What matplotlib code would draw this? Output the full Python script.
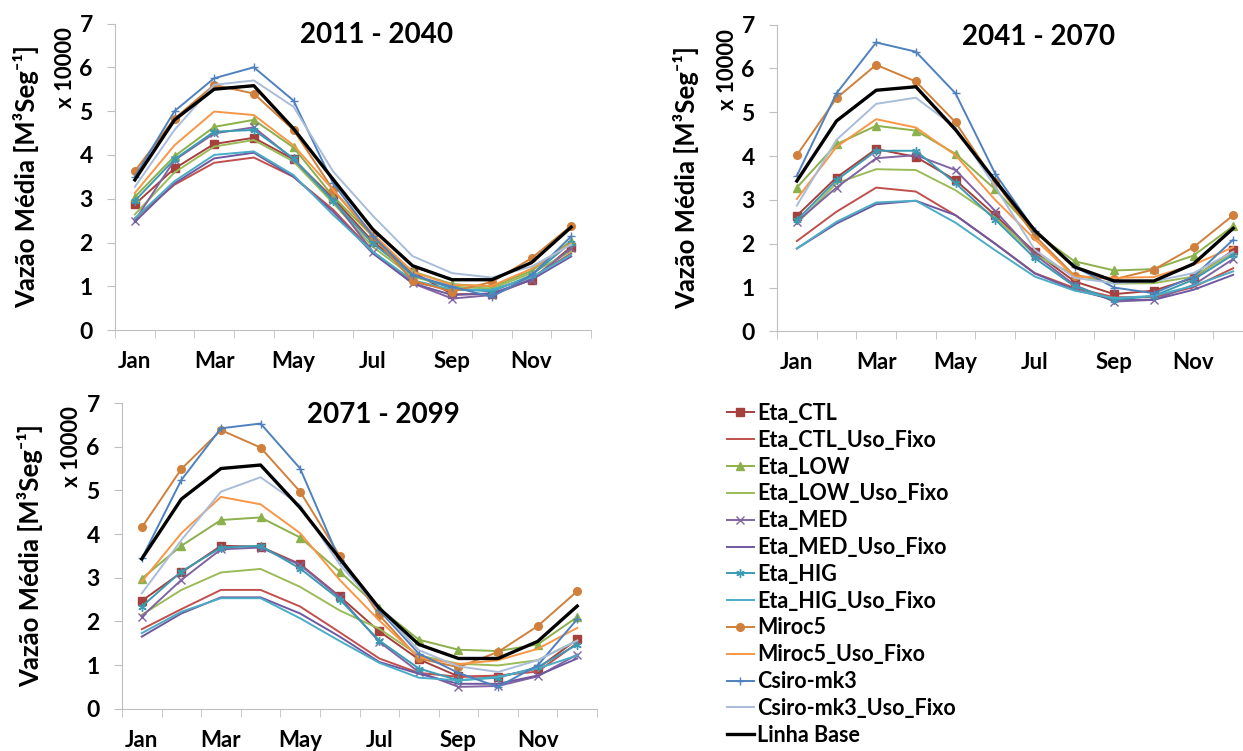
import matplotlib
matplotlib.use('Agg')
import matplotlib.pyplot as plt
import numpy as np

plt.rcParams['font.family'] = ['Lato', 'DejaVu Sans']
plt.rcParams['font.weight'] = 'bold'

meses = ['Jan', 'Feb', 'Mar', 'Apr', 'May', 'Jun', 'Jul', 'Aug', 'Sep', 'Oct', 'Nov', 'Dec']
periodos = ['2011 - 2040', '2041 - 2070', '2071 - 2099']
nomes = ['Eta_CTL', 'Eta_CTL_Uso_Fixo', 'Eta_LOW', 'Eta_LOW_Uso_Fixo', 'Eta_MED',
         'Eta_MED_Uso_Fixo', 'Eta_HIG', 'Eta_HIG_Uso_Fixo', 'Miroc5', 'Miroc5_Uso_Fixo',
         'Csiro-mk3', 'Csiro-mk3_Uso_Fixo', 'Linha Base']

# vazao media (x 10000 m3/s)
linha_base = [3.43, 4.80, 5.50, 5.58, 4.60, 3.44, 2.30, 1.47, 1.15, 1.15, 1.54, 2.35]

# 2011 - 2040
eta_ctl_1 = [2.87, 3.69, 4.25, 4.39, 3.90, 3.01, 2.02, 1.33, 0.82, 0.82, 1.15, 1.90]
eta_ctl_uso_1 = [2.55, 3.32, 3.82, 3.94, 3.50, 2.75, 1.79, 1.10, 0.92, 0.92, 1.20, 1.75]
eta_low_1 = [3.04, 3.97, 4.64, 4.80, 4.17, 3.05, 2.14, 1.34, 1.05, 0.99, 1.35, 2.04]
eta_low_uso_1 = [2.64, 3.60, 4.19, 4.34, 3.85, 2.90, 1.90, 1.22, 0.99, 0.95, 1.30, 1.80]
eta_med_1 = [2.50, 3.88, 4.49, 4.63, 3.90, 2.97, 1.79, 1.07, 0.72, 0.80, 1.15, 1.87]
eta_med_uso_1 = [2.47, 3.35, 3.92, 4.05, 3.50, 2.70, 1.75, 1.07, 0.80, 0.84, 1.15, 1.68]
eta_hig_1 = [2.95, 3.90, 4.53, 4.57, 3.92, 2.94, 1.98, 1.26, 0.95, 0.88, 1.25, 2.00]
eta_hig_uso_1 = [2.55, 3.40, 4.00, 4.08, 3.54, 2.63, 1.79, 1.14, 0.92, 0.92, 1.20, 1.72]
miroc5_1 = [3.63, 4.83, 5.60, 5.40, 4.57, 3.20, 2.14, 1.13, 0.88, 1.10, 1.64, 2.38]
miroc5_uso_1 = [3.13, 4.22, 4.99, 4.91, 4.22, 3.20, 2.20, 1.33, 1.03, 1.01, 1.40, 1.98]
csiro_1 = [3.50, 5.00, 5.75, 6.00, 5.24, 3.35, 2.15, 1.26, 0.99, 0.76, 1.25, 2.14]
csiro_uso_1 = [3.27, 4.57, 5.60, 5.70, 5.10, 3.62, 2.61, 1.69, 1.30, 1.20, 1.45, 1.95]

# 2041 - 2070
eta_ctl_2 = [2.64, 3.51, 4.16, 3.98, 3.45, 2.65, 1.81, 1.14, 0.85, 0.93, 1.22, 1.85]
eta_ctl_uso_2 = [2.06, 2.73, 3.28, 3.19, 2.65, 2.00, 1.33, 0.99, 0.78, 0.78, 1.01, 1.44]
eta_low_2 = [3.28, 4.27, 4.69, 4.58, 4.05, 3.24, 2.25, 1.60, 1.39, 1.42, 1.73, 2.40]
eta_low_uso_2 = [2.46, 3.38, 3.70, 3.68, 3.22, 2.60, 1.75, 1.29, 1.09, 1.10, 1.25, 1.79]
eta_med_2 = [2.50, 3.28, 3.95, 4.02, 3.68, 2.75, 1.75, 1.06, 0.68, 0.72, 1.06, 1.65]
eta_med_uso_2 = [1.89, 2.46, 2.90, 2.98, 2.65, 2.00, 1.32, 0.95, 0.72, 0.72, 0.95, 1.29]
eta_hig_2 = [2.54, 3.45, 4.12, 4.12, 3.38, 2.55, 1.67, 1.03, 0.72, 0.81, 1.18, 1.75]
eta_hig_uso_2 = [1.89, 2.50, 2.94, 2.98, 2.48, 1.85, 1.25, 0.93, 0.76, 0.81, 1.04, 1.37]
miroc5_2 = [4.02, 5.32, 6.08, 5.70, 4.77, 3.41, 2.18, 1.27, 1.19, 1.41, 1.92, 2.65]
miroc5_uso_2 = [3.02, 4.21, 4.84, 4.65, 4.02, 3.00, 2.10, 1.25, 1.22, 1.24, 1.52, 1.92]
csiro_2 = [3.55, 5.43, 6.59, 6.38, 5.43, 3.60, 2.30, 1.48, 1.00, 0.87, 1.25, 2.09]
csiro_uso_2 = [2.87, 4.37, 5.19, 5.33, 4.65, 3.30, 1.86, 1.22, 1.10, 1.14, 1.33, 1.82]

# 2071 - 2099
eta_ctl_3 = [2.47, 3.12, 3.73, 3.71, 3.31, 2.57, 1.77, 1.13, 0.74, 0.73, 0.92, 1.59]
eta_ctl_uso_3 = [1.82, 2.28, 2.72, 2.72, 2.34, 1.75, 1.15, 0.82, 0.73, 0.76, 0.85, 1.50]
eta_low_3 = [2.98, 3.73, 4.32, 4.38, 3.92, 3.14, 2.30, 1.58, 1.35, 1.32, 1.47, 2.10]
eta_low_uso_3 = [2.15, 2.72, 3.12, 3.20, 2.79, 2.25, 1.83, 1.22, 1.03, 0.99, 1.11, 1.56]
eta_med_3 = [2.11, 2.95, 3.65, 3.69, 3.29, 2.55, 1.53, 0.84, 0.50, 0.52, 0.74, 1.24]
eta_med_uso_3 = [1.65, 2.18, 2.55, 2.55, 2.18, 1.65, 1.07, 0.80, 0.57, 0.57, 0.76, 1.15]
eta_hig_3 = [2.34, 3.14, 3.69, 3.73, 3.21, 2.50, 1.56, 0.92, 0.65, 0.71, 0.95, 1.47]
eta_hig_uso_3 = [1.73, 2.22, 2.53, 2.53, 2.07, 1.55, 1.05, 0.71, 0.65, 0.73, 0.92, 1.22]
miroc5_3 = [4.15, 5.49, 6.38, 5.98, 4.97, 3.50, 2.14, 1.15, 0.95, 1.30, 1.89, 2.69]
miroc5_uso_3 = [2.91, 4.02, 4.85, 4.68, 4.02, 2.95, 2.02, 1.18, 1.02, 1.11, 1.37, 1.85]
csiro_3 = [3.44, 5.24, 6.42, 6.53, 5.50, 3.40, 2.25, 1.26, 0.82, 0.50, 0.99, 2.05]
csiro_uso_3 = [2.64, 3.86, 4.97, 5.30, 4.66, 3.30, 2.29, 1.34, 0.97, 0.84, 1.11, 1.56]

series = [
    [eta_ctl_1, eta_ctl_uso_1, eta_low_1, eta_low_uso_1, eta_med_1, eta_med_uso_1,
     eta_hig_1, eta_hig_uso_1, miroc5_1, miroc5_uso_1, csiro_1, csiro_uso_1, linha_base],
    [eta_ctl_2, eta_ctl_uso_2, eta_low_2, eta_low_uso_2, eta_med_2, eta_med_uso_2,
     eta_hig_2, eta_hig_uso_2, miroc5_2, miroc5_uso_2, csiro_2, csiro_uso_2, linha_base],
    [eta_ctl_3, eta_ctl_uso_3, eta_low_3, eta_low_uso_3, eta_med_3, eta_med_uso_3,
     eta_hig_3, eta_hig_uso_3, miroc5_3, miroc5_uso_3, csiro_3, csiro_uso_3, linha_base],
]

cores = ['#A5403D', '#C0504D', '#8CB04B', '#9BBB59', '#8064A2', '#6F58A0',
         '#3B9BB3', '#4BACC6', '#D0803A', '#F79646', '#4F81BD', '#A9BCDA', 'black']
marcadores = ['s', None, '^', None, 'x', None, (6, 2, 0), None, 'o', None, '+', None, None]

fig = plt.figure(figsize=(12.43, 7.51), dpi=100)
W, H = 1243, 751

# axes boxes in pixels: left, right, y of value 0, y of value 7
caixas = [(115, 591, 330.1, 23.5), (777, 1253, 331.4, 24.5), (122, 597, 708.7, 403.0)]
titulos_xy = [(377, 35), (1039, 37), (383, 415)]
ylabel_xy = [(26, 177), (686, 178), (30, 556)]
escala_xy = [(66, 68), (728, 70), (72, 447)]

x = np.arange(12)
for k, (l, r, y0, y7) in enumerate(caixas):
    ax = fig.add_axes([l / W, 1 - y0 / H, (r - l) / W, (y0 - y7) / H])
    for s, nome, cor, mk in zip(series[k], nomes, cores, marcadores):
        lw = 2.4 if nome == 'Linha Base' else 1.4
        ax.plot(x, s, color=cor, lw=lw, marker=mk, ms=5.5 if mk in ('s', 'o') else 6,
                mew=1.0, label=nome)
    ax.set_xlim(-0.5, 11.5)
    ax.set_ylim(0, 7)
    ax.set_yticks(range(8))
    ax.set_xticks(x[::2])
    ax.set_xticklabels(meses[::2])
    ax.set_xticks(np.arange(-0.5, 12, 1), minor=True)
    for sp in ['top', 'right']:
        ax.spines[sp].set_visible(False)
    for sp in ['left', 'bottom']:
        ax.spines[sp].set_color('#BFBFBF')
    ax.tick_params(axis='x', which='major', length=0, pad=15, labelsize=16)
    ax.tick_params(axis='x', which='minor', length=6, color='#BFBFBF')
    ax.tick_params(axis='y', length=6, color='#BFBFBF', pad=10, labelsize=16.5)
    ax.patch.set_alpha(0)

    fig.text(titulos_xy[k][0] / W, 1 - titulos_xy[k][1] / H, periodos[k],
             ha='center', va='center', fontsize=20, fontweight='bold')
    fig.text(ylabel_xy[k][0] / W, 1 - ylabel_xy[k][1] / H, 'Vazão Média [M³Seg⁻¹]',
             ha='center', va='center', rotation=90, fontsize=18.5, fontweight='bold')
    fig.text(escala_xy[k][0] / W, 1 - escala_xy[k][1] / H, 'x 10000',
             ha='center', va='center', rotation=90, fontsize=16, fontweight='bold')
    if k == 0:
        handles, labels = ax.get_legend_handles_labels()

fig.legend(handles, labels, loc='upper left', bbox_to_anchor=(727 / W, 1 - 403 / H),
           frameon=False, prop={'weight': 'bold', 'size': 15.5}, borderpad=0, borderaxespad=0,
           handlelength=1.25, handletextpad=0.15, labelspacing=0.27)

fig.savefig('out.png', dpi=100)
